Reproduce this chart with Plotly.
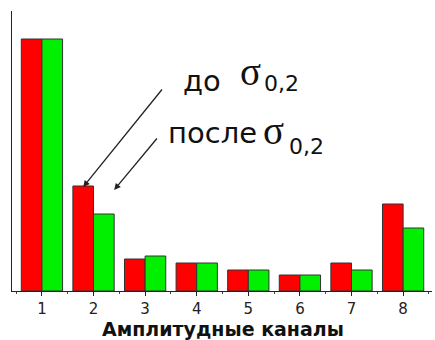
import plotly.graph_objects as go

# Amplitude channels and relative counts before / after the yield point
channels = [1, 2, 3, 4, 5, 6, 7, 8]
before_values = [252, 105, 32, 28, 21, 16, 28, 87]
after_values = [252, 77, 35, 28, 21, 16, 21, 63]
tick_labels = ["1", "2", "3", "4", "5", "6", "7", "8"]

W, H = 435, 340
ML, MR, MT, MB = 12, 3, 11, 49
PW, PH = W - ML - MR, H - MT - MB


def px(x):
    return (x - ML) / PW


def py(y):
    return (H - MB - y) / PH


fig = go.Figure()
fig.add_trace(go.Bar(x=channels, y=before_values, name="до",
                     marker=dict(color="#ff0000", line=dict(color="#333333", width=1))))
fig.add_trace(go.Bar(x=channels, y=after_values, name="после",
                     marker=dict(color="#00f000", line=dict(color="#333333", width=1))))

font_txt = "DejaVu Sans, Arial, sans-serif"
font_sym = "Liberation Serif, Times New Roman, serif"
ann = []


def label(text, x, y, size, bold=False, anchor="left", family=font_txt):
    ann.append(dict(text=f"<b>{text}</b>" if bold else text, xref="paper", yref="paper",
                    x=px(x), y=py(y), xanchor=anchor, yanchor="middle", showarrow=False,
                    font=dict(family=family, size=size, color="#111111")))


label("до", 181, 81, 29)
label("σ", 238, 71, 39, family=font_sym)
label("0,2", 262, 83, 22)
label("после", 166, 133, 29)
label("σ", 261, 130, 39, family=font_sym)
label("0,2", 287, 146, 22)
label("Амплитудные каналы", 223, 329, 19, bold=True, anchor="center")

# Arrows pointing at the channel-2 bars
ann.append(dict(x=1.80, y=104, xref="x", yref="y", ax=80, ay=-99,
                showarrow=True, arrowhead=2, arrowsize=1, arrowwidth=1.3, arrowcolor="#222222",
                text="", standoff=0))
ann.append(dict(x=2.40, y=101, xref="x", yref="y", ax=44, ay=-53,
                showarrow=True, arrowhead=2, arrowsize=1, arrowwidth=1.3, arrowcolor="#222222",
                text="", standoff=0))

fig.update_layout(
    width=W, height=H,
    margin=dict(l=ML, r=MR, t=MT, b=MB),
    paper_bgcolor="white", plot_bgcolor="white",
    barmode="group", bargap=0.2, bargroupgap=0,
    showlegend=False, annotations=ann,
    hovermode=False,
)
fig.update_xaxes(
    range=[0.42, 8.56], tickvals=channels, ticktext=tick_labels,
    showline=True, linecolor="#222222", linewidth=1,
    ticks="outside", ticklen=4, tickcolor="#222222", tickwidth=1,
    minor=dict(dtick=0.5, tick0=0.5, ticks="outside", ticklen=2, tickcolor="#444444"),
    tickfont=dict(family=font_txt, size=15, color="#222222"),
    ticklabelstandoff=0,
    showgrid=False, zeroline=False,
)
fig.update_yaxes(
    range=[0, 280], showline=True, linecolor="#222222", linewidth=1,
    showticklabels=False, ticks="", showgrid=False, zeroline=False,
)

fig.write_html("out.html")
